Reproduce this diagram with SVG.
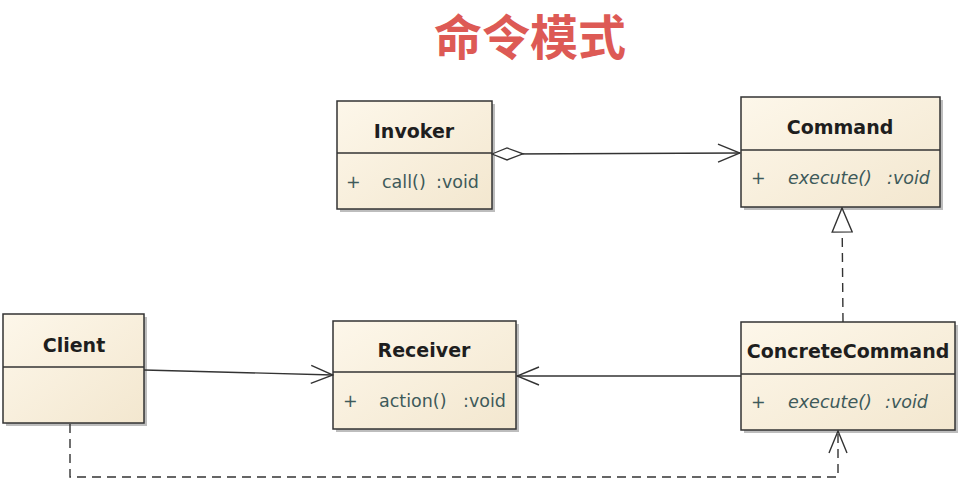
<svg xmlns="http://www.w3.org/2000/svg" width="964" height="482" viewBox="0 0 964 482">
<defs>
<linearGradient id="cream" x1="0" y1="0" x2="1" y2="1">
<stop offset="0" stop-color="#fdf7ea"/>
<stop offset="1" stop-color="#f3e7cf"/>
</linearGradient>
<marker id="open" viewBox="0 0 24 20" refX="23" refY="10" markerWidth="24" markerHeight="20" markerUnits="userSpaceOnUse" orient="auto">
<path d="M1,1 L23,10 L1,19" fill="none" stroke="#333" stroke-width="1.4"/>
</marker>
<marker id="tri" viewBox="0 0 26 22" refX="25" refY="11" markerWidth="26" markerHeight="22" markerUnits="userSpaceOnUse" orient="auto">
<path d="M1,1 L25,11 L1,21 Z" fill="#fff" stroke="#333" stroke-width="1.4"/>
</marker>
<marker id="dia" viewBox="0 0 34 14" refX="1" refY="7" markerWidth="34" markerHeight="14" markerUnits="userSpaceOnUse" orient="auto">
<path d="M1,7 L16,1 L32,7 L16,13 Z" fill="#fff" stroke="#333" stroke-width="1.3"/>
</marker>
</defs>
<style>
.box{fill:url(#cream);stroke:#333;stroke-width:1.5}
.shadow{fill:#bdbdbd}
.div{stroke:#333;stroke-width:1.3}
.name{font-family:"DejaVu Sans",sans-serif;font-weight:bold;font-size:19px;fill:#1e1e1e;text-anchor:middle}
.m{font-family:"DejaVu Sans",sans-serif;font-size:17.5px;fill:#3e5a5a}
.it{font-style:italic}
.line{fill:none;stroke:#333;stroke-width:1.4}
.dash{stroke-dasharray:9,6}
.title{font-family:"Noto Sans CJK SC",sans-serif;font-weight:bold;font-size:48px;fill:#dd5a55;text-anchor:middle}
</style>
<rect width="964" height="482" fill="#fff"/>
<text class="title" x="530" y="55">命令模式</text>

<g id="Invoker">
<rect class="shadow" x="340" y="104" width="155" height="108"/>
<rect class="box" x="337" y="101" width="155" height="108"/>
<line class="div" x1="337" y1="153" x2="492" y2="153"/>
<text class="name" x="414" y="138">Invoker</text>
<text class="m" x="346" y="188">+</text>
<text class="m" x="382" y="188">call()</text>
<text class="m" x="436" y="188">:void</text>
</g>

<g id="Command">
<rect class="shadow" x="744" y="100" width="199" height="110"/>
<rect class="box" x="741" y="97" width="199" height="110"/>
<line class="div" x1="741" y1="150" x2="940" y2="150"/>
<text class="name" x="840" y="134">Command</text>
<text class="m" x="751" y="184">+</text>
<text class="m it" x="788" y="184">execute()</text>
<text class="m it" x="887" y="184">:void</text>
</g>

<g id="Client">
<rect class="shadow" x="6" y="317" width="141" height="109"/>
<rect class="box" x="3" y="314" width="141" height="109"/>
<line class="div" x1="3" y1="367" x2="144" y2="367"/>
<text class="name" x="74" y="352">Client</text>
</g>

<g id="Receiver">
<rect class="shadow" x="336" y="324" width="183" height="108"/>
<rect class="box" x="333" y="321" width="183" height="108"/>
<line class="div" x1="333" y1="372" x2="516" y2="372"/>
<text class="name" x="424" y="357">Receiver</text>
<text class="m" x="343" y="407">+</text>
<text class="m" x="379" y="407">action()</text>
<text class="m" x="463" y="407">:void</text>
</g>

<g id="ConcreteCommand">
<rect class="shadow" x="744" y="325" width="214" height="108"/>
<rect class="box" x="741" y="322" width="214" height="108"/>
<line class="div" x1="741" y1="374" x2="955" y2="374"/>
<text class="name" x="848" y="358">ConcreteCommand</text>
<text class="m" x="751" y="408">+</text>
<text class="m it" x="788" y="408">execute()</text>
<text class="m it" x="885" y="408">:void</text>
</g>

<g id="connectors">
<path class="line" d="M492,154 L740,153" marker-start="url(#dia)" marker-end="url(#open)"/>
<path class="line" d="M144,370 L333,375" marker-end="url(#open)"/>
<path class="line" d="M741,376 L517,376" marker-end="url(#open)"/>
<path class="line dash" d="M843,322 L842,208" marker-end="url(#tri)"/>
<path class="line dash" d="M70,424 L70,477 L838,477 L838,431" marker-end="url(#open)"/>
</g>
</svg>
